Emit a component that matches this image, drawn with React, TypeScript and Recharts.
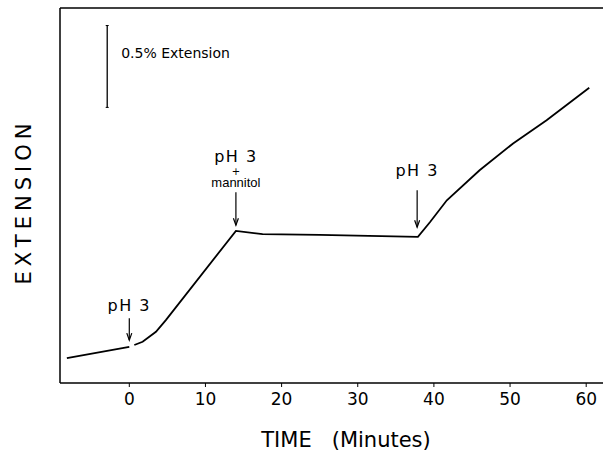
import { LineChart, Line, XAxis, YAxis, ReferenceLine } from 'recharts';

// time in minutes, extension in %
const times = [-8.2, 0, 0.33, 0.66, 1.75, 3.5, 4.8, 14.0, 17.5, 25, 37.9, 39.5, 41.7, 46.0, 50.4, 54.8, 60.4];
const extension = [0.152, 0.221, null, 0.232, 0.252, 0.313, 0.384, 0.929, 0.909, 0.905, 0.892, 0.983, 1.116, 1.299, 1.463, 1.604, 1.803];

const timeTicks = [0, 10, 20, 30, 40, 50, 60];
const timeDomain = [-9.1, 62.6];
const extensionDomain = [0, 2.29];

// treatment arrows
const arrowTimes = [0, 14, 37.8];
const arrowFrom = [0.396, 1.165, 1.177];
const arrowTo = [0.262, 0.963, 0.951];
const arrowLabels = [['pH 3'], ['pH 3', '+', 'mannitol'], ['pH 3']];

// scale bar
const scaleBarTime = -2.9;
const scaleBarFrom = 1.683;
const scaleBarTo = 2.183;
const scaleBarLabel = '0.5% Extension';

const data = times.map((t, i) => ({ t, ext: extension[i] }));

const FONT = '"DejaVu Sans", sans-serif';
const labelGap = [7, 5, 14];

function labelStyle(s: string) {
  if (s === '+') return { fontSize: 10, letterSpacing: 0, fontFamily: FONT };
  if (s === 'mannitol') return { fontSize: 13, letterSpacing: 0, fontFamily: '"Liberation Sans", sans-serif' };
  return { fontSize: 16, letterSpacing: 1.5, fontFamily: FONT };
}

function arrowShape(lines: string[], gap: number) {
  return (p: any) => {
    const { x1, y1, x2, y2 } = p;
    return (
      <g>
        <line x1={x1} y1={y1} x2={x2} y2={y2} stroke="#000" strokeWidth={1.2} />
        <path d={`M${x2 - 2.5},${y2 - 7} L${x2},${y2} L${x2 + 2.5},${y2 - 7}`} fill="none" stroke="#000" strokeWidth={1.2} />
        {lines.map((s, i) => (
          <text
            key={i}
            x={x1}
            y={y1 - gap - (lines.length - 1 - i) * 12.5}
            textAnchor="middle"
            fill="#000"
            {...labelStyle(s)}
          >
            {s}
          </text>
        ))}
      </g>
    );
  };
}

function scaleBarShape(p: any) {
  const { x1, y1, x2, y2 } = p;
  const top = Math.min(y1, y2);
  return (
    <g>
      <line x1={x1} y1={y1} x2={x2} y2={y2} stroke="#000" strokeWidth={1.3} />
      <line x1={x1 - 1.5} y1={y1} x2={x1 + 1.5} y2={y1} stroke="#000" />
      <line x1={x2 - 1.5} y1={y2} x2={x2 + 1.5} y2={y2} stroke="#000" />
      <text x={x1 + 14} y={top + 32} fontSize={14} fontFamily={FONT} fill="#000">
        {scaleBarLabel}
      </text>
    </g>
  );
}

function yTitle({ viewBox }: any) {
  const cx = 24;
  const cy = viewBox.y + viewBox.height / 2 + 6;
  return (
    <text
      x={cx}
      y={cy}
      transform={`rotate(-90, ${cx}, ${cy})`}
      textAnchor="middle"
      dominantBaseline="central"
      fontSize={21}
      letterSpacing={5}
      fontFamily={FONT}
      fill="#000"
    >
      EXTENSION
    </text>
  );
}

export default function App() {
  return (
    <div style={{ position: 'absolute', left: 0, top: 0, width: 603, height: 457, background: '#fff', overflow: 'hidden' }}>
      <LineChart
        width={606}
        height={457}
        data={data}
        margin={{ top: 8, right: 0, left: 60, bottom: 44 }}
        style={{ fontFamily: FONT }}
      >
        <XAxis
          dataKey="t"
          type="number"
          domain={timeDomain}
          ticks={timeTicks}
          allowDataOverflow
          height={30}
          tick={{ fill: '#000', fontSize: 17, fontFamily: FONT }}
          tickLine={{ stroke: '#000' }}
          tickSize={4}
          tickMargin={6}
          axisLine={{ stroke: '#000', strokeWidth: 1.5 }}
          label={{
            content: ({ viewBox }: any) => (
              <text
                x={viewBox.x + 286}
                y={447}
                textAnchor="middle"
                fontSize={21}
                fontFamily={FONT}
                fill="#000"
              >
                {'TIME\u00a0\u00a0\u00a0(Minutes)'}
              </text>
            ),
          }}
        />
        <YAxis type="number" domain={extensionDomain} allowDataOverflow hide />
        {/* frame: left and top edges */}
        <ReferenceLine
          x={timeDomain[0]}
          stroke="#000"
          strokeWidth={1.5}
          label={{ content: yTitle }}
        />
        <ReferenceLine y={extensionDomain[1]} stroke="#000" strokeWidth={1.5} />
        <Line
          type="linear"
          dataKey="ext"
          stroke="#000"
          strokeWidth={1.8}
          dot={false}
          connectNulls={false}
          isAnimationActive={false}
        />
        {arrowTimes.map((t, i) => (
          <ReferenceLine
            key={i}
            segment={[
              { x: t, y: arrowFrom[i] },
              { x: t, y: arrowTo[i] },
            ]}
            shape={arrowShape(arrowLabels[i], labelGap[i])}
          />
        ))}
        <ReferenceLine
          segment={[
            { x: scaleBarTime, y: scaleBarTo },
            { x: scaleBarTime, y: scaleBarFrom },
          ]}
          shape={scaleBarShape}
        />
      </LineChart>
    </div>
  );
}
